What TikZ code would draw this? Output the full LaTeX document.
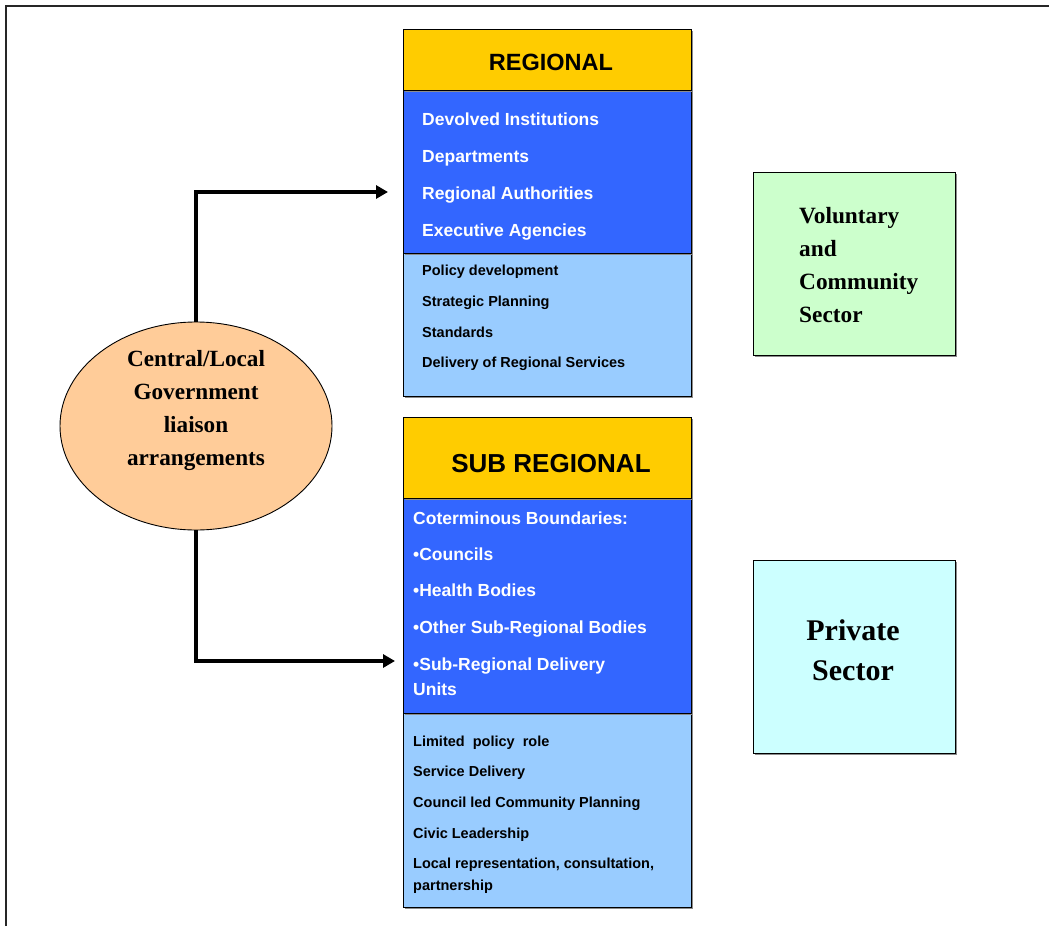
\documentclass[tikz,border=0pt]{standalone}
\usepackage{fontspec}
\setmainfont{Liberation Serif}
\setsansfont{Liberation Sans}
\usetikzlibrary{arrows.meta,shadows,shapes.geometric}
\definecolor{hdr}{HTML}{FFCC00}
\definecolor{blu}{HTML}{3366FF}
\definecolor{lblu}{HTML}{99CCFF}
\definecolor{grn}{HTML}{CCFFCC}
\definecolor{cyn}{HTML}{CCFFFF}
\definecolor{peach}{HTML}{FFCC99}
\begin{document}
\begin{tikzpicture}[x=1pt,y=-1pt,
  panel/.style={draw=black,line width=0.9pt,anchor=north west,inner sep=0pt,
    drop shadow={shadow xshift=1.5pt,shadow yshift=-1.5pt,fill=black!45,opacity=1}},
  wtxt/.style={anchor=base west,inner sep=0pt,text=white,font=\sffamily\bfseries\fontsize{17.5}{20}\selectfont},
  btxt/.style={anchor=base west,inner sep=0pt,text=black,font=\sffamily\bfseries\fontsize{14.5}{20}\selectfont},
  ctxt/.style={anchor=base west,inner sep=0pt,align=left,text=black,font=\sffamily\bfseries\fontsize{14.5}{22}\selectfont},
  conn/.style={line width=3.3pt,-{Triangle[length=12pt,width=13pt]}}]
\useasboundingbox (0,0) rectangle (1049,926);
\fill[white] (0,0) rectangle (1049,926);
% frame
\draw[line width=1.5pt,black!85] (6,926) -- (6,6) -- (1049,6);
% REGIONAL
\node[panel,fill=lblu,minimum width=288pt,minimum height=143pt] (rl) at (403,253) {};
\node[panel,fill=blu,minimum width=288pt,minimum height=163pt] (rb) at (403,90) {};
\node[panel,fill=hdr,minimum width=288pt,minimum height=61pt] (rh) at (403,29) {};
\node[anchor=base,inner sep=0pt,font=\sffamily\bfseries\fontsize{23.5}{26}\selectfont] (rht) at (551,70.5) {REGIONAL};
\node[wtxt] (r1) at (422,125.5) {Devolved Institutions};
\node[wtxt] (r2) at (422,162.5) {Departments};
\node[wtxt] (r3) at (422,199.5) {Regional Authorities};
\node[wtxt] (r4) at (422,236.5) {Executive Agencies};
\node[btxt] (r5) at (422,275.3) {Policy development};
\node[btxt] (r6) at (422,306.3) {Strategic Planning};
\node[btxt] (r7) at (422,337.3) {Standards};
\node[btxt] (r8) at (422,367.3) {Delivery of Regional Services};
% SUB REGIONAL
\node[panel,fill=lblu,minimum width=288pt,minimum height=194pt] (sl) at (403,713) {};
\node[panel,fill=blu,minimum width=288pt,minimum height=215pt] (sb) at (403,498) {};
\node[panel,fill=hdr,minimum width=288pt,minimum height=81pt] (sh) at (403,417) {};
\node[anchor=base,inner sep=0pt,font=\sffamily\bfseries\fontsize{26}{30}\selectfont] (sht) at (551,472.5) {SUB REGIONAL};
\node[wtxt] (s1) at (413,524.5) {Coterminous Boundaries:};
\node[wtxt] (s2) at (413,560.5) {\textbullet Councils};
\node[wtxt] (s3) at (413,596.5) {\textbullet Health Bodies};
\node[wtxt] (s4) at (413,633.5) {\textbullet Other Sub-Regional Bodies};
\node[wtxt] (s5) at (413,670.5) {\textbullet Sub-Regional Delivery};
\node[wtxt] (s6) at (413,695.5) {Units};
\node[btxt] (s7) at (413,746.3) {Limited\ \ policy\ \ role};
\node[btxt] (s8) at (413,776.3) {Service Delivery};
\node[btxt] (s9) at (413,807.3) {Council led Community Planning};
\node[btxt] (s10) at (413,838.3) {Civic Leadership};
\node[ctxt] (s11) at (413,868.3) {Local representation, consultation,};
\node[ctxt] (s12) at (413,890.3) {partnership};
% side boxes
\node[panel,fill=grn,minimum width=202pt,minimum height=183pt] (vc) at (753,172) {};
\node[anchor=north west,inner sep=0pt,align=left,font=\bfseries\fontsize{23.3}{33}\selectfont] (vct) at (799,207) {Voluntary\\and\\Community\\Sector};
\node[panel,fill=cyn,minimum width=202pt,minimum height=193pt] (ps) at (753,560) {};
\node[align=center,inner sep=0pt,font=\bfseries\fontsize{30}{40}\selectfont] (pst) at (853,650) {Private\\Sector};
% ellipse
\node[draw=black,line width=0.9pt,fill=peach,ellipse,minimum width=272pt,minimum height=208pt,inner sep=0pt] (el) at (196,426) {};
\node[align=center,inner sep=0pt,font=\bfseries\fontsize{23.2}{33}\selectfont] (elt) at (196,411) {Central/Local\\Government\\liaison\\arrangements};
% connectors
\coordinate (a1) at (388,192);
\coordinate (a2) at (395,661);
\draw[conn] (el.north) |- (a1);
\draw[conn] (el.south) |- (a2);
\end{tikzpicture}
\end{document}
